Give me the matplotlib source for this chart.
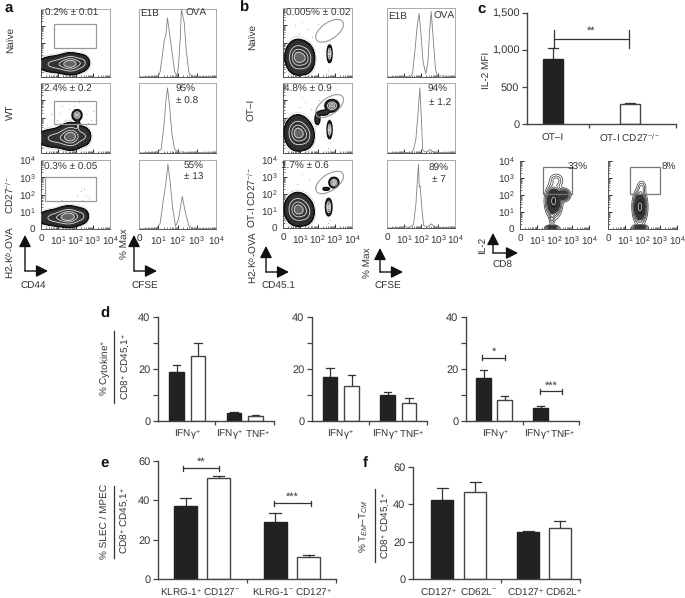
import numpy as np
import matplotlib
matplotlib.use("Agg")
import matplotlib.pyplot as plt
from matplotlib.colors import LinearSegmentedColormap
from matplotlib.patches import Ellipse, FancyArrowPatch, Rectangle

plt.rcParams["font.family"] = ["Liberation Sans", "DejaVu Sans"]
plt.rcParams["mathtext.fontset"] = "custom"
plt.rcParams["mathtext.rm"] = "Liberation Sans"
plt.rcParams["mathtext.it"] = "Liberation Sans:italic"
plt.rcParams["text.hinting"] = "no_hinting"
plt.rcParams["text.hinting_factor"] = 1

W, H = 685, 598
TXT = "#333333"
LINE = "#444444"
FS = 7.2

# ---- bar values (mean, top of error bar) ----
d1_vals = [19, 25, 3, 2]
d1_errs = [21.5, 30, 3.6, 2.5]
d2_vals = [17, 13.5, 10, 7]
d2_errs = [20.5, 17.6, 11.2, 9]
d3_vals = [16.5, 8, 5]
d3_errs = [19.7, 9.5, 5.6]
e_vals = [37, 51.5, 29, 11]
e_errs = [41.3, 52.5, 33.7, 12]
f_vals = [42.5, 46.5, 25, 27.5]
f_errs = [48.5, 52.2, 25.7, 31]
c_vals = [880, 270]
c_errs = [1030, 285]

# ---- histograms: (log CFSE, % max) ----
hist_a1_x = [0, 1.0, 1.1, 1.25, 1.32, 1.4, 1.48, 1.58, 1.7, 1.85, 1.97, 2.05, 2.15, 2.2, 2.35, 2.45, 2.6, 2.8, 4]
hist_a1_y = [0, 1, 8, 40, 55, 62, 87, 65, 40, 8, 2, 15, 60, 100, 80, 40, 5, 1, 0]
hist_a2_x = [0, 0.9, 1.15, 1.3, 1.4, 1.48, 1.58, 1.7, 1.85, 2.1, 2.2, 2.35, 4]
hist_a2_y = [0, 1, 5, 40, 75, 93, 70, 30, 5, 1, 1.5, 1, 0]
hist_a3_x = [0, 0.9, 1.1, 1.25, 1.4, 1.5, 1.62, 1.75, 1.9, 2.05, 2.25, 2.4, 2.6, 2.8, 4]
hist_a3_y = [0, 1, 8, 40, 67, 94, 68, 30, 4, 14, 47, 25, 4, 1, 0]
hist_b1_x = [0, 1.4, 1.5, 1.65, 1.78, 1.89, 2.0, 2.12, 2.28, 2.4, 2.52, 2.6, 2.72, 2.85, 2.95, 4]
hist_b1_y = [0, 1, 5, 40, 75, 92, 62, 22, 5, 20, 70, 95, 55, 12, 2, 0]
hist_b2_x = [0, 1.45, 1.56, 1.7, 1.82, 1.93, 2.02, 2.1, 2.3, 2.54, 2.75, 4]
hist_b2_y = [0, 1, 5, 20, 55, 93, 50, 4, 1, 5, 1, 0]
hist_b3_x = [0, 0.9, 1.1, 1.3, 1.56, 1.7, 1.85, 1.9, 1.95, 2.05, 2.15, 2.35, 2.6, 2.85, 4]
hist_b3_y = [0, 0.5, 2, 0.5, 5, 35, 94, 60, 62, 30, 4, 1, 6, 1, 0]

# ---- flow populations: centre x, centre y, spread x, spread y, weight ----
pops_a1 = [(1.75, 0.78, 0.42, 0.31, 1.0), (0.75, 0.75, 0.55, 0.27, 0.5), (2.45, 0.85, 0.22, 0.25, 0.3)]
pops_a2 = [(1.75, 0.95, 0.4, 0.38, 1.0), (0.75, 0.85, 0.55, 0.3, 0.5), (2.55, 0.95, 0.22, 0.3, 0.3),
           (2.09, 2.17, 0.14, 0.15, 0.9), (2.15, 1.6, 0.05, 0.15, 0.3)]
pops_a3 = [(1.65, 0.72, 0.42, 0.3, 1.0), (0.75, 0.65, 0.55, 0.26, 0.5), (2.4, 0.75, 0.22, 0.25, 0.3)]
pops_b1 = [(0.85, 1.15, 0.36, 0.5, 1.0), (1.4, 1.05, 0.25, 0.45, 0.45), (2.7, 1.35, 0.07, 0.25, 0.9)]
pops_b2 = [(0.85, 1.15, 0.38, 0.5, 1.0), (1.4, 0.95, 0.25, 0.4, 0.3), (2.7, 1.33, 0.07, 0.25, 0.9),
           (2.84, 2.7, 0.2, 0.17, 0.95), (2.35, 2.3, 0.18, 0.09, 0.35), (2.0, 1.95, 0.1, 0.22, 0.3)]
pops_b3 = [(0.85, 1.1, 0.38, 0.48, 1.0), (1.4, 0.9, 0.25, 0.4, 0.3), (2.65, 1.23, 0.09, 0.25, 0.95),
           (2.95, 2.67, 0.14, 0.15, 0.95), (2.5, 2.3, 0.13, 0.06, 0.3)]
pops_c1 = [(1.85, 0.08, 0.18, 0.07, 0.4), (1.95, 1.65, 0.2, 0.4, 1.0), (2.5, 2.0, 0.18, 0.16, 0.6),
           (2.1, 2.85, 0.2, 0.2, 0.12), (1.85, 0.65, 0.08, 0.25, 0.1)]
pops_c2 = [(1.85, 0.08, 0.19, 0.08, 0.6), (1.85, 1.3, 0.17, 0.42, 1.0), (1.95, 2.45, 0.13, 0.2, 0.1)]

# ---- sparse events outside the contours ----
dots_a2 = [(1.1, 2.3), (1.4, 1.9), (1.6, 2.5), (1.9, 2.7), (2.6, 2.2), (2.9, 1.9), (1.3, 1.7), (3.0, 2.4),
           (0.9, 1.9), (1.7, 1.8), (2.2, 2.9), (2.7, 1.7), (1.2, 2.7), (0.6, 2.2)]
dots_a3 = [(2.1, 1.9), (2.3, 2.2), (2.5, 2.3), (2.6, 2.0), (1.9, 1.6), (1.2, 1.7), (2.8, 1.8), (2.4, 1.7)]
dots_b1 = [(0.9, 2.5), (1.1, 3.2), (1.4, 2.8), (0.7, 3.0), (1.7, 2.3), (2.0, 3.1), (2.6, 0.4), (2.7, 2.1), (2.5, 0.2)]
dots_b2 = [(0.9, 2.6), (1.3, 2.9), (1.6, 2.5), (0.6, 2.2), (2.1, 3.0), (2.6, 0.3), (2.7, 0.6), (1.1, 3.2)]
dots_b3 = [(0.8, 2.6), (1.5, 2.9), (1.9, 2.4), (1.1, 3.2), (2.6, 0.3), (2.75, 0.5), (0.5, 2.2)]

gates_a = [(0.78, 1.7, 3.18, 3.12), (0.78, 1.64, 3.18, 2.98), (0.25, 1.64, 3.18, 3.0)]

flow_ticks = [0, 1, 2, 3, 4]
flow_labels = ["0", "10$^{1}$", "10$^{2}$", "10$^{3}$", "10$^{4}$"]

fig = plt.figure(figsize=(W / 100, H / 100), dpi=100)

flow_cmap = LinearSegmentedColormap.from_list("flow", ["#2c2c2c", "#474747", "#707070", "#9a9a9a"])


def px_axes(x0, y0, x1, y1):
    """Axes from pixel box, y measured from top of image."""
    return fig.add_axes([x0 / W, 1 - y1 / H, (x1 - x0) / W, (y1 - y0) / H])


def put(x, y, s, size=FS, **kw):
    kw.setdefault("ha", "center")
    kw.setdefault("va", "center")
    kw.setdefault("color", TXT)
    return fig.text(x / W, 1 - y / H, s, fontsize=size, **kw)


def style_flow(ax, show_labels=False):
    ax.set_xlim(0, 4)
    ax.set_ylim(0, 4)
    for s in ax.spines.values():
        s.set_color("#aaaaaa")
        s.set_linewidth(0.7)
    ax.spines["left"].set_color("#555555")
    ax.spines["bottom"].set_color("#555555")
    ax.set_xticks(flow_ticks)
    ax.set_yticks(flow_ticks)
    minor = [t + np.log10(m) for t in flow_ticks[:-1] for m in range(2, 10)]
    ax.set_xticks(minor, minor=True)
    ax.set_yticks(minor, minor=True)
    ax.tick_params(which="major", length=3, width=0.7, color="#333333", pad=4,
                   labelsize=FS, labelcolor=TXT, direction="in")
    ax.tick_params(which="minor", length=1.5, width=0.5, color="#444444", direction="in")
    if show_labels:
        ax.set_xticklabels(flow_labels)
        ax.set_yticklabels(flow_labels)
    else:
        ax.set_xticklabels([])
        ax.set_yticklabels([])


def pop_grid(pops):
    xs = np.linspace(0, 4, 320)
    X, Y = np.meshgrid(xs, xs)
    Z = np.zeros_like(X)
    for cx, cy, sx, sy, w in pops:
        Z += w * np.exp(-0.5 * (((X - cx) / sx) ** 2 + ((Y - cy) / sy) ** 2))
    return X, Y, Z


def density(ax, pops, dots=()):
    X, Y, Z = pop_grid(pops)
    ax.contourf(X, Y, Z, levels=[0.12, 0.2, 0.3, 0.4, 0.5, 0.6, 0.7, 0.8, 0.9, 5], cmap=flow_cmap, zorder=2)
    ax.contour(X, Y, Z, levels=[0.12], colors="#111111", linewidths=1.1, zorder=3)
    ax.contour(X, Y, Z, levels=[0.42, 0.68, 0.88], colors="#e0e0e0", linewidths=0.6, zorder=3)
    ax.contour(X, Y, Z, levels=[0.06], colors="#cccccc", linewidths=0.4, zorder=1)
    if len(dots):
        ax.scatter(*zip(*dots), s=0.7, color="#b0b0b0", linewidths=0, zorder=1)


def contour_only(ax, pops):
    X, Y, Z = pop_grid(pops)
    ax.contourf(X, Y, Z, levels=[0.22, 0.6, 5], colors=["#3a3a3a", "#222222"], zorder=2)
    ax.contour(X, Y, Z, levels=[0.02, 0.05, 0.09, 0.14, 0.2, 0.3, 0.45, 0.6, 0.8], colors="#333333",
               linewidths=0.5, zorder=3)
    ax.contour(X, Y, Z, levels=[0.85], colors="#dddddd", linewidths=0.5, zorder=4)


def gate_box(ax, x0, y0, x1, y1, color="#999999"):
    ax.add_patch(Rectangle((x0, y0), x1 - x0, y1 - y0, fill=False, ec=color, lw=0.9, zorder=4))


def gate_oval(ax, cx, cy, w, h, angle):
    ax.add_patch(Ellipse((cx, cy), w, h, angle=angle, fill=False, ec="#999999", lw=0.8, zorder=4))


def hist(ax, xs, ys, show_labels=False):
    style_flow(ax, show_labels)
    ax.spines["left"].set_color("#aaaaaa")
    ax.set_yticks([])
    ax.set_yticks([], minor=True)
    ax.plot(xs, np.array(ys) * 0.04, color="#808080", lw=0.6)


def arrows(x0, y0, xlen, ylen, xlabel, lab_x, lab_y, ylabel, ylab_x, ylab_y):
    ar = dict(arrowstyle="-|>,head_width=0.28,head_length=0.55", color="#111111", lw=1.0,
              shrinkA=0, shrinkB=0, mutation_scale=13, transform=fig.transFigure)
    fig.add_artist(FancyArrowPatch((x0 / W, 1 - y0 / H), ((x0 + xlen) / W, 1 - y0 / H), **ar))
    fig.add_artist(FancyArrowPatch((x0 / W, 1 - y0 / H), (x0 / W, 1 - (y0 - ylen) / H), **ar))
    put(lab_x, lab_y, xlabel)
    put(ylab_x, ylab_y, ylabel, rotation=90)


def bar_axes(x0, x1, ytop, ybot, ymax, yticks, minor, splits, vals, errs, centers, width):
    ax = px_axes(x0, ytop, x1, ybot)
    ax.set_xlim(x0, x1)
    ax.set_ylim(0, ymax)
    ax.patch.set_alpha(0)
    for s in ["top", "right"]:
        ax.spines[s].set_visible(False)
    for s in ["left", "bottom"]:
        ax.spines[s].set_color(LINE)
        ax.spines[s].set_linewidth(1.0)
    ax.set_yticks(yticks)
    ax.set_yticks(minor, minor=True)
    ax.set_xticks(splits)
    ax.set_xticklabels([])
    ax.tick_params(which="both", axis="y", length=3.5, width=0.9, color=LINE, labelsize=FS + 0.5,
                   labelcolor=TXT, pad=2)
    ax.tick_params(axis="x", length=3, width=0.9, color=LINE)
    for i, (cx, v, e) in enumerate(zip(centers, vals, errs)):
        fc = "#222222" if i % 2 == 0 else "white"
        ec = "#222222" if i % 2 == 0 else "#444444"
        ax.bar(cx, v, width=width, color=fc, edgecolor=ec, linewidth=1.0, zorder=2)
        ax.plot([cx, cx], [v, e], color="#333333", lw=0.9, zorder=1)
        ax.plot([cx - width * 0.25, cx + width * 0.25], [e, e], color="#333333", lw=0.9, zorder=1)
    return ax


def bracket(ax, x0, x1, y, stars, cap):
    ax.plot([x0, x1], [y, y], color="#333333", lw=0.9, clip_on=False)
    ax.plot([x0, x0], [y - cap, y + cap], color="#333333", lw=0.9, clip_on=False)
    ax.plot([x1, x1], [y - cap, y + cap], color="#333333", lw=0.9, clip_on=False)
    ax.text((x0 + x1) / 2, y + cap * 0.3, stars, ha="center", va="bottom", fontsize=8, color=TXT, clip_on=False)


# ---- panel a ----
rows_a = [(9, 77), (83, 153), (160, 229)]
for (y0, y1), pops, dots, gate, has_lab in zip(rows_a, [pops_a1, pops_a2, pops_a3], [(), dots_a2, dots_a3],
                                               gates_a, [0, 0, 1]):
    ax = px_axes(41, y0, 110, y1)
    style_flow(ax, bool(has_lab))
    density(ax, pops, dots)
    gate_box(ax, *gate)
for (y0, y1), xs, ys, has_lab in zip(rows_a, [hist_a1_x, hist_a2_x, hist_a3_x], [hist_a1_y, hist_a2_y, hist_a3_y], [0, 0, 1]):
    ax = px_axes(139, y0, 216, y1)
    hist(ax, xs, ys, bool(has_lab))
put(9, 8, "a", size=10.5, fontweight="bold", color="#111111")
put(10, 40, "Naïve", rotation=90)
put(10, 112, "WT", rotation=90)
put(10, 195, "CD27$^{-/-}$", rotation=90)
put(72, 13, "0.2% ± 0.01")
put(68, 89, "2.4% ± 0.2")
put(71, 167, "0.3% ± 0.05")
put(150, 13, "E1B")
put(196, 13, "OVA")
put(186, 89, "95%")
put(187, 101, "± 0.8")
put(194, 166, "55%")
put(194, 177, "± 13")
arrows(25, 271, 23, 36, "CD44", 33, 286, "H2-K$^{b}$-OVA", 10, 252)
arrows(134, 271, 23, 36, "CFSE", 145, 286, "% Max", 125, 244)

# ---- panel b ----
rows_b = [(8, 77), (83, 153), (160, 228)]
for (y0, y1), pops, dots, has_lab in zip(rows_b, [pops_b1, pops_b2, pops_b3], [dots_b1, dots_b2, dots_b3], [0, 0, 1]):
    ax = px_axes(283, y0, 352, y1)
    style_flow(ax, bool(has_lab))
    density(ax, pops, dots)
    gate_oval(ax, 2.7, 2.68, 1.85, 0.95, 35)
for (y0, y1), xs, ys, has_lab in zip(rows_b, [hist_b1_x, hist_b2_x, hist_b3_x], [hist_b1_y, hist_b2_y, hist_b3_y], [0, 0, 1]):
    ax = px_axes(387, y0, 455, y1)
    hist(ax, xs, ys, bool(has_lab))
put(244, 8, "b", size=10.5, fontweight="bold", color="#111111")
put(252, 37, "Naïve", rotation=90)
put(252, 110, "OT–I", rotation=90)
put(252, 197, "OT-I CD27$^{-/-}$", rotation=90)
put(318, 13, "0.005% ± 0.02")
put(308, 89, "4.8% ± 0.9")
put(305, 166, "1.7% ± 0.6")
put(398, 16, "E1B")
put(444, 16, "OVA")
put(438, 89, "94%")
put(440, 102, "± 1.2")
put(439, 168, "89%")
put(439, 179, "± 7")
arrows(266, 272, 23, 26, "CD45.1", 278, 286, "H2-K$^{b}$-OVA", 253, 257)
arrows(380, 272, 23, 24, "CFSE", 388, 286, "% Max", 368, 263)

# ---- panel c ----
ax_c = bar_axes(527, 676, 13, 124, 1500, [0, 500, 1000, 1500], [], [589, 676], c_vals, c_errs, [553, 630], 20)
ax_c.set_yticklabels(["0", "500", "1,000", "1,500"])
bracket(ax_c, 554, 629, 1150, "**", 120)
put(482, 9, "c", size=10.5, fontweight="bold", color="#111111")
put(486, 70, "IL-2 MFI", rotation=90)
put(553, 138, "OT–I")
put(630, 138, "OT-I CD27$^{-/-}$")

for x0, x1, pops, lab, lab_x, box, show_y in [(520, 589, pops_c1, "33%", 3.95, (1.31, 2.04, 3.02, 3.65), True),
                                              (608, 677, pops_c2, "8%", 3.95, (1.3, 2.04, 3.02, 3.65), False)]:
    ax = px_axes(x0, 161, x1, 229)
    style_flow(ax, False)
    ax.set_xticklabels(flow_labels)
    if show_y:
        ax.set_yticklabels(flow_labels)
    for s in ["top", "right"]:
        ax.spines[s].set_visible(False)
    contour_only(ax, pops)
    gate_box(ax, *box, color="#777777")
    ax.text(lab_x, 3.65, lab, ha="right", va="center", fontsize=FS, color=TXT, zorder=5)
arrows(493, 253, 25, 20, "CD8", 502, 265, "IL-2", 482, 245)

# ---- panel d ----
put(105, 314, "d", size=10.5, fontweight="bold", color="#111111")
d_ticks = [0, 20, 40]
d_minor = [10, 30]
ax_d1 = bar_axes(158, 274, 317, 421, 40, d_ticks, d_minor, [215, 274], d1_vals, d1_errs, [176.5, 198, 234, 255.5], 14.5)
ax_d2 = bar_axes(312, 427, 317, 421, 40, d_ticks, d_minor, [369, 427], d2_vals, d2_errs, [330, 351.5, 387.5, 409], 14.5)
ax_d3 = bar_axes(466, 579, 317, 421, 40, d_ticks, d_minor, [523, 579], d3_vals, d3_errs, [483.5, 504.5, 540.5], 14.5)
bracket(ax_d3, 482, 505, 24.4, "*", 0.9)
bracket(ax_d3, 540, 562, 11.4, "***", 0.9)
for x1, x2, x3 in [(187, 229, 258), (340, 385, 412), (495, 537, 563)]:
    put(x1, 434, "IFNγ$^{+}$")
    put(x2, 434, "IFNγ$^{+}$")
    put(x3, 434, "TNF$^{+}$")
put(105, 368, "% Cytokine$^{+}$", rotation=90)
put(125, 367, "CD8$^{+}$ CD45.1$^{+}$", rotation=90)
fig.add_artist(plt.Line2D([114 / W, 114 / W], [1 - 331 / H, 1 - 403 / H], color="#333333", lw=0.9))

# ---- panel e ----
put(105, 463, "e", size=10.5, fontweight="bold", color="#111111")
ax_e = bar_axes(158, 336, 461, 579, 60, [0, 20, 40, 60], [], [247, 336], e_vals, e_errs, [185.5, 218.5, 275, 308.5], 23)
bracket(ax_e, 183, 219, 56.4, "**", 1.3)
bracket(ax_e, 274, 311, 38.6, "***", 1.3)
put(181, 592, "KLRG-1$^{+}$")
put(221, 592, "CD127$^{-}$")
put(273, 592, "KLRG-1$^{-}$")
put(313, 592, "CD127$^{+}$")
put(104, 521, "% SLEC / MPEC", rotation=90)
put(124, 521, "CD8$^{+}$ CD45.1$^{+}$", rotation=90)
fig.add_artist(plt.Line2D([114 / W, 114 / W], [1 - 486 / H, 1 - 558 / H], color="#333333", lw=0.9))

# ---- panel f ----
put(365, 463, "f", size=10.5, fontweight="bold", color="#111111")
ax_f = bar_axes(413, 580, 467, 579, 60, [0, 20, 40, 60], [], [501, 580], f_vals, f_errs, [442.5, 475, 528, 559.5], 22)
put(438, 592, "CD127$^{+}$")
put(478, 592, "CD62L$^{-}$")
put(525, 592, "CD127$^{+}$")
put(563, 592, "CD62L$^{+}$")
put(364, 526, "% T$_{EM}$–T$_{CM}$", rotation=90)
put(385, 526, "CD8$^{+}$ CD45.1$^{+}$", rotation=90)
fig.add_artist(plt.Line2D([375 / W, 375 / W], [1 - 489 / H, 1 - 562 / H], color="#333333", lw=0.9))

fig.savefig("out.png", dpi=100)
